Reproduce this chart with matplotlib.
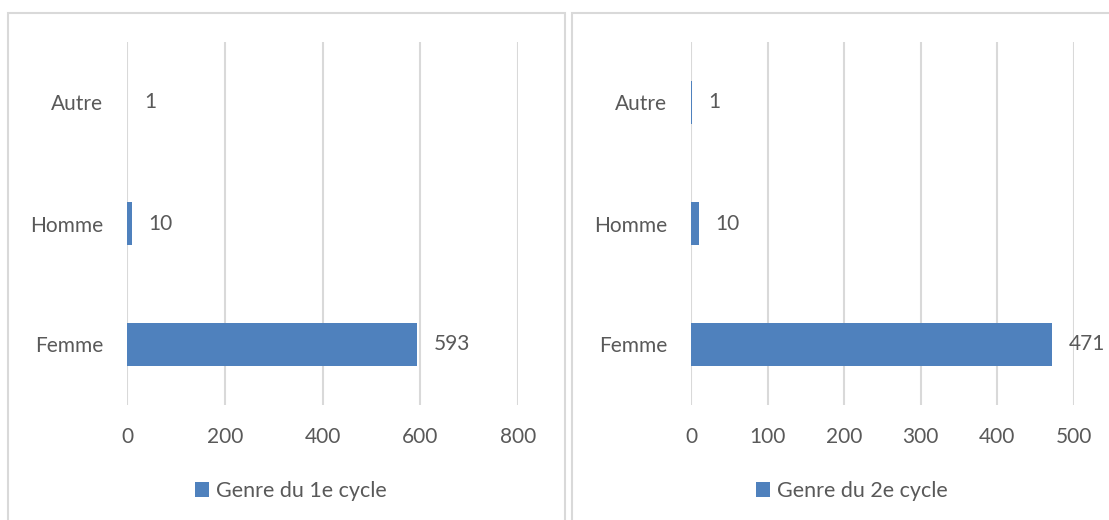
import matplotlib.pyplot as plt
from matplotlib.patches import Rectangle

# Data
categories = ['Femme', 'Homme', 'Autre']
cycle1 = [593, 10, 1]
cycle2 = [471, 10, 1]
labels = ['Genre du 1e cycle', 'Genre du 2e cycle']

plt.rcParams['font.family'] = ['Lato', 'DejaVu Sans']
bar_color = '#4f81bd'
text_color = '#595959'
grid_color = '#d9d9d9'
fs = 15

fig = plt.figure(figsize=(11.09, 5.2), dpi=100)
W, H = 1109, 520

# panel borders (in pixels)
for x0, x1 in [(8, 565), (572, 1120)]:
    fig.patches.append(Rectangle((x0 / W, -0.05), (x1 - x0) / W, 1 - 13 / H + 0.05,
                                 transform=fig.transFigure, fill=False,
                                 edgecolor=grid_color, linewidth=1.5))

def draw(ax, values, xmax, step, label, legend_x):
    ax.barh(categories, values, height=0.36, color=bar_color, zorder=3, label=label)
    ax.set_xlim(0, xmax)
    ax.set_ylim(-0.5, 2.5)
    ax.set_xticks(range(0, xmax + 1, step))
    ax.grid(axis='x', color=grid_color, linewidth=1.5, zorder=0)
    for s in ax.spines.values():
        s.set_visible(False)
    ax.tick_params(length=0, labelsize=fs, labelcolor=text_color, pad=16)
    ax.tick_params(axis='y', pad=17)
    for i, v in enumerate(values):
        ax.annotate(str(v), (v, i), xytext=(12, 0), textcoords='offset points',
                    va='center', ha='left', fontsize=fs, color=text_color)
    fig.legend(handles=[ax.patches[0]], labels=[label], loc='center',
               bbox_to_anchor=(legend_x / W, 1 - 491 / H), frameon=False,
               fontsize=15.5, labelcolor=text_color, handlelength=0.65,
               handleheight=0.65, handletextpad=0.3)

ax1 = fig.add_axes([127 / W, 1 - 405 / H, (518 - 127) / W, (405 - 42) / H])
draw(ax1, cycle1, 800, 200, labels[0], 291)
ax2 = fig.add_axes([691 / W, 1 - 405 / H, (1074 - 691) / W, (405 - 42) / H])
draw(ax2, cycle2, 500, 100, labels[1], 852)

fig.savefig('out.png', dpi=100)
